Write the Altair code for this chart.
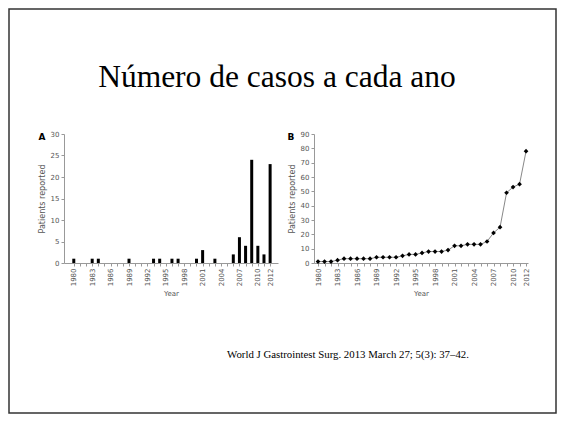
import altair as alt
import pandas as pd

# ---- data ----
title_text = "Número de casos a cada ano"
citation_text = "World J Gastrointest Surg. 2013 March 27; 5(3): 37–42."

years_a = [1980, 1983, 1984, 1989, 1993, 1994, 1996, 1997, 2000, 2001, 2003,
           2006, 2007, 2008, 2009, 2010, 2011, 2012]
cases_a = [1, 1, 1, 1, 1, 1, 1, 1, 1, 3, 1, 2, 6, 4, 24, 4, 2, 23]

years_b = [1980, 1981, 1982, 1983, 1984, 1985, 1986, 1987, 1988, 1989, 1990,
           1991, 1992, 1993, 1994, 1995, 1996, 1997, 1998, 1999, 2000, 2001,
           2002, 2003, 2004, 2005, 2006, 2007, 2008, 2009, 2010, 2011, 2012]
cumulative_b = [1, 1, 1, 2, 3, 3, 3, 3, 3, 4, 4, 4, 4, 5, 6, 6, 7, 8, 8, 8, 9,
                12, 12, 13, 13, 13, 15, 21, 25, 49, 53, 55, 78]

all_years = list(range(1980, 2013))
labelled_years = [1980, 1983, 1986, 1989, 1992, 1995, 1998, 2001, 2004, 2007, 2010, 2012]
ticks_a = [0, 5, 10, 15, 20, 25, 30]
ticks_b = [0, 10, 20, 30, 40, 50, 60, 70, 80, 90]

df_a = pd.DataFrame({"Year": years_a, "Patients": cases_a})
df_b = pd.DataFrame({"Year": years_b, "Patients": cumulative_b})

W, H = 214, 129
SANS = "DejaVu Sans"
GRAY = "#555555"
AXC = "#999999"

label_expr = ("indexof([" + ",".join(str(y) for y in labelled_years)
              + "], datum.value) >= 0 ? datum.label : ''")


def x_axis():
    return alt.Axis(values=all_years, format="d", labelExpr=label_expr, labelAngle=-90,
                    labelFontSize=7, labelFont=SANS, labelColor=GRAY, labelOverlap=False,
                    labelPadding=2, tickSize=3, tickColor=AXC, domainColor=AXC,
                    title="Year", titleFontSize=7, titleFont=SANS, titleColor=GRAY,
                    titleFontWeight="normal", titlePadding=4, grid=False)


def y_axis(vals):
    return alt.Axis(values=vals, labelFontSize=7, labelFont=SANS, labelColor=GRAY,
                    tickSize=3, tickColor=AXC, domainColor=AXC,
                    title="Patients reported", titleFontSize=8, titleFont=SANS,
                    titleColor=GRAY, titleFontWeight="normal", titlePadding=4, grid=False)


one = pd.DataFrame({"t": [""]})

# ---- panel A ----
bars = alt.Chart(df_a).mark_bar(color="black", size=3).encode(
    x=alt.X("Year:Q", scale=alt.Scale(domain=[1979.22, 2012.47], nice=False, zero=False),
            axis=x_axis()),
    y=alt.Y("Patients:Q", scale=alt.Scale(domain=[0, 30], nice=False), axis=y_axis(ticks_a)),
)
label_a = alt.Chart(pd.DataFrame({"t": ["A"]})).mark_text(
    font=SANS, fontWeight="bold", fontSize=9, baseline="middle", align="center", color="black"
).encode(text="t:N", x=alt.value(-22), y=alt.value(3))
title_mark = alt.Chart(pd.DataFrame({"t": [title_text]})).mark_text(
    font="Liberation Serif", fontSize=31.5, baseline="alphabetic", align="center", color="black"
).encode(text="t:N", x=alt.value(213), y=alt.value(-47))
border = alt.Chart(one).mark_rect(fill="white", fillOpacity=0, stroke="#333333",
                                  strokeWidth=1.5).encode(
    x=alt.value(-55), x2=alt.value(492), y=alt.value(-125), y2=alt.value(279)
)
chart_a = alt.layer(border, bars, label_a, title_mark).properties(width=W, height=H)

# ---- panel B ----
base_b = alt.Chart(df_b).encode(
    x=alt.X("Year:Q", scale=alt.Scale(domain=[1979.38, 2012.3], nice=False, zero=False),
            axis=x_axis()),
    y=alt.Y("Patients:Q", scale=alt.Scale(domain=[0, 90], nice=False), axis=y_axis(ticks_b)),
)
line = base_b.mark_line(color="#888888", strokeWidth=1)
pts = base_b.mark_point(shape="diamond", filled=True, color="black", size=22, opacity=1)
label_b = alt.Chart(pd.DataFrame({"t": ["B"]})).mark_text(
    font=SANS, fontWeight="bold", fontSize=9, baseline="middle", align="center", color="black"
).encode(text="t:N", x=alt.value(-23), y=alt.value(3))
cite = alt.Chart(pd.DataFrame({"t": [citation_text]})).mark_text(
    font="Liberation Serif", fontSize=10.8, baseline="middle", align="center", color="black"
).encode(text="t:N", x=alt.value(34), y=alt.value(221))
chart_b = alt.layer(line, pts, label_b, cite).properties(width=W, height=H)

chart = alt.hconcat(chart_a, chart_b, spacing=36, bounds="flush").properties(
    padding=0,
).configure(background="white", view=alt.ViewConfig(stroke=None))

chart.save("out.html", embed_options={"renderer": "svg", "actions": False})
